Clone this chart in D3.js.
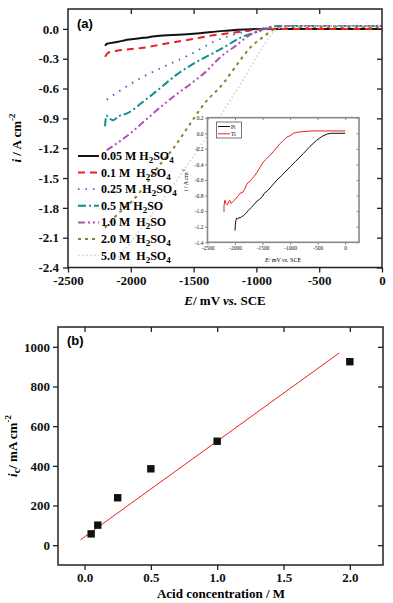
<!DOCTYPE html>
<html>
<head>
<meta charset="utf-8">
<script src="https://cdn.jsdelivr.net/npm/d3@7"></script>
<style>
  body { margin: 0; background: #fff; }
  text { font-family: "Liberation Serif", "DejaVu Serif", serif; }
</style>
</head>
<body>
<div id="chart"></div>
<script>
// panel (a): polarisation curves, [E (mV vs SCE), i (A cm-2)]
const curve005 = [[-2205,-0.17],[-2190,-0.15],[-2100,-0.13],[-2030,-0.11],[-1900,-0.09],[-1770,-0.07],[-1500,-0.05],[-1260,-0.02],[-1000,0.0],[-800,0.0],[0,0.0]];
const curve01 = [[-2205,-0.28],[-2180,-0.24],[-2110,-0.22],[-1900,-0.19],[-1770,-0.16],[-1500,-0.10],[-1370,-0.07],[-1130,-0.03],[-920,0.0],[-700,0.0],[0,0.0]];
const curve025 = [[-2192,-0.71],[-2060,-0.60],[-1900,-0.48],[-1770,-0.40],[-1500,-0.24],[-1340,-0.13],[-1130,-0.04],[-920,0.01],[-800,0.03],[0,0.03]];
const curve05 = [[-2205,-0.98],[-2195,-0.87],[-2170,-0.90],[-2140,-0.92],[-2100,-0.88],[-2030,-0.85],[-1900,-0.73],[-1770,-0.60],[-1635,-0.46],[-1500,-0.35],[-1265,-0.19],[-1130,-0.09],[-1000,-0.03],[-890,0.02],[-800,0.03],[0,0.03]];
const curve10 = [[-2192,-1.22],[-2033,-1.08],[-1850,-0.88],[-1690,-0.71],[-1500,-0.53],[-1420,-0.45],[-1265,-0.26],[-1185,-0.19],[-1050,-0.06],[-920,0.0],[-820,0.03],[0,0.03]];
const curve20 = [[-2205,-2.0],[-2110,-1.87],[-1980,-1.72],[-1890,-1.58],[-1790,-1.40],[-1660,-1.20],[-1530,-0.96],[-1420,-0.76],[-1265,-0.55],[-1155,-0.36],[-1050,-0.19],[-945,-0.08],[-850,0.0],[-750,0.02],[0,0.02]];
const curve50 = [[-2100,-2.3],[-1900,-1.98],[-1700,-1.64],[-1500,-1.28],[-1300,-0.9],[-1100,-0.5],[-950,-0.18],[-860,-0.03],[-780,0.02],[0,0.03]];

const seriesNames = ["0.05 M H2SO4", "0.1 M  H2SO4", "0.25 M  H2SO4", "0.5 M H2SO", "1.0 M  H2SO", "2.0 M  H2SO4", "5.0 M  H2SO4"];
const seriesData = [curve005, curve01, curve025, curve05, curve10, curve20, curve50];
const seriesColors = ["#111111", "#e8211d", "#3a5fc0", "#128c8c", "#b84cb8", "#85852a", "#cfcfcf"];
const seriesDash = ["none", "7,5", "1.5,6", "8,3,2,3", "7,3,2,3,2,3", "3,4", "1.5,2.5"];
const seriesWidth = [2, 2, 1.8, 2, 2, 2, 1.5];

// inset: Pt and Ti electrodes
const insetPt = [[-2000,-1.25],[-1995,-1.18],[-1985,-1.12],[-1970,-1.09],[-1950,-1.10],[-1930,-1.08],[-1910,-1.09],[-1880,-1.07],[-1850,-1.06],[-1820,-1.04],[-1790,-1.02],[-1760,-0.99],[-1700,-0.95],[-1650,-0.91],[-1600,-0.87],[-1560,-0.85],[-1500,-0.81],[-1480,-0.78],[-1400,-0.73],[-1300,-0.65],[-1240,-0.60],[-1150,-0.54],[-1000,-0.43],[-900,-0.36],[-760,-0.26],[-640,-0.17],[-520,-0.09],[-420,-0.04],[-330,-0.01],[-250,0.0],[0,0.0]];
const insetTi = [[-2200,-1.01],[-2200,-0.93],[-2185,-0.86],[-2165,-0.90],[-2140,-0.92],[-2115,-0.88],[-2095,-0.86],[-2075,-0.90],[-2040,-0.88],[-2000,-0.85],[-1950,-0.81],[-1910,-0.77],[-1860,-0.76],[-1820,-0.71],[-1790,-0.66],[-1760,-0.63],[-1730,-0.62],[-1700,-0.59],[-1650,-0.55],[-1600,-0.50],[-1540,-0.43],[-1490,-0.37],[-1430,-0.33],[-1360,-0.28],[-1300,-0.23],[-1240,-0.18],[-1180,-0.13],[-1120,-0.09],[-1060,-0.05],[-1000,-0.03],[-940,0.0],[-880,0.01],[-800,0.02],[-600,0.03],[0,0.03]];

// panel (b): cathodic current vs acid concentration
const acidConc = [0.05, 0.1, 0.25, 0.5, 1.0, 2.0];
const currentDensity = [57, 101, 239, 385, 524, 925];
const fitConc = [-0.03, 1.92];
const fitCurrent = [27, 969];

const aXTicks = [-2500, -2000, -1500, -1000, -500, 0];
const aYTicks = [0.0, -0.3, -0.6, -0.9, -1.2, -1.5, -1.8, -2.1, -2.4];
const insetXTicks = [-2500, -2000, -1500, -1000, -500, 0];
const insetYTicks = [0.2, 0.0, -0.2, -0.4, -0.6, -0.8, -1.0, -1.2, -1.4];
const bXTicks = [0.0, 0.5, 1.0, 1.5, 2.0];
const bYTicks = [0, 200, 400, 600, 800, 1000];

const W = 393, H = 603;
const svg = d3.select("#chart").append("svg")
  .attr("width", W).attr("height", H);
svg.append("rect").attr("width", W).attr("height", H).attr("fill", "#fff");

// little helper: draw axes as a box with ticks (outer on left/bottom, inner on top/right)
function boxAxes(g, x, y, xt, yt, opt) {
  const [x0, x1] = x.range();
  const [y0, y1] = y.range();
  const tl = opt.tick, col = opt.color;
  const bottom = g.append("g").attr("transform", `translate(0,${y0})`)
    .call(d3.axisBottom(x).tickValues(xt).tickSize(opt.inner ? -tl : tl).tickPadding(opt.pad).tickFormat(opt.xfmt));
  const left = g.append("g").attr("transform", `translate(${x0},0)`)
    .call(d3.axisLeft(y).tickValues(yt).tickSize(opt.inner ? -tl : tl).tickPadding(opt.ypad).tickFormat(opt.yfmt));
  const top = g.append("g").attr("transform", `translate(0,${y1})`)
    .call(d3.axisTop(x).tickValues(opt.topTicks || xt).tickSize(-tl).tickFormat(""));
  const right = g.append("g").attr("transform", `translate(${x1},0)`)
    .call(d3.axisRight(y).tickValues(yt).tickSize(-tl).tickFormat(""));
  [bottom, left, top, right].forEach((a) => {
    a.select(".domain").remove();
    a.selectAll("line").attr("stroke", col).attr("stroke-width", opt.width);
    a.selectAll("text").attr("fill", "#111")
      .style("font-family", "'Liberation Serif', serif")
      .style("font-size", opt.font + "px")
      .style("font-weight", opt.bold ? "bold" : "normal");
  });
  g.append("rect")
    .attr("x", x0).attr("y", y1).attr("width", x1 - x0).attr("height", y0 - y1)
    .attr("fill", "none").attr("stroke", col).attr("stroke-width", opt.frame);
}

// ---------- panel (a) ----------
const xa = d3.scaleLinear().domain([-2500, 0]).range([68, 382]);
const ya = d3.scaleLinear().domain([-2.4, 0.2]).range([267.5, 9]);
const ga = svg.append("g");

const lineA = d3.line().x((d) => xa(d[0])).y((d) => ya(d[1])).curve(d3.curveMonotoneX);
seriesData.forEach((s, i) => {
  ga.append("path").datum(s)
    .attr("d", lineA)
    .attr("fill", "none")
    .attr("stroke", seriesColors[i])
    .attr("stroke-width", seriesWidth[i])
    .attr("stroke-dasharray", seriesDash[i]);
});

boxAxes(ga, xa, ya, aXTicks, aYTicks, {
  tick: 5, pad: 3, ypad: 4, color: "#222", width: 1.3, frame: 1.5, font: 13, bold: true,
  xfmt: d3.format("d"), yfmt: d3.format(".1f"), topTicks: [-2000, -1500, -1000, -500]
});
// use hyphen-like minus as in the original
ga.selectAll(".tick text").text(function () { return d3.select(this).text().replace("−", "-"); });

ga.append("text").attr("x", 77).attr("y", 28)
  .style("font-family", "'Liberation Sans', Arial, sans-serif")
  .style("font-weight", "bold").style("font-size", "13px").text("(a)");

// legend
const legA = ga.append("g");
seriesNames.forEach((name, i) => {
  const yy = 156 + i * 16.6;
  legA.append("line").attr("x1", 78).attr("x2", 99).attr("y1", yy).attr("y2", yy)
    .attr("stroke", seriesColors[i]).attr("stroke-width", seriesWidth[i])
    .attr("stroke-dasharray", seriesDash[i]);
  const t = legA.append("text").attr("x", 101).attr("y", yy + 4)
    .style("font-weight", "bold").style("font-size", "12px").style("white-space", "pre");
  const m = name.match(/^(.*H)2(SO)(4?)$/);
  t.append("tspan").text(m[1]);
  t.append("tspan").attr("dy", 3).style("font-size", "9px").text("2");
  t.append("tspan").attr("dy", -3).text(m[2]);
  if (m[3]) t.append("tspan").attr("dy", 3).style("font-size", "9px").text("4");
});

// axis titles (a)
const xta = ga.append("text").attr("x", 225).attr("y", 305).attr("text-anchor", "middle")
  .style("font-weight", "bold").style("font-size", "13px");
xta.append("tspan").style("font-style", "italic").text("E");
xta.append("tspan").text("/ mV ");
xta.append("tspan").style("font-style", "italic").text("vs.");
xta.append("tspan").text(" SCE");

const yta = ga.append("text").attr("transform", "translate(21,138) rotate(-90)")
  .attr("text-anchor", "middle").style("font-weight", "bold").style("font-size", "13px");
yta.append("tspan").style("font-style", "italic").text("i");
yta.append("tspan").text(" / A cm");
yta.append("tspan").attr("dy", -6).style("font-size", "9px").text("-2");

// ---------- inset ----------
const xi = d3.scaleLinear().domain([-2500, 250]).range([207.5, 359]);
const yi = d3.scaleLinear().domain([-1.4, 0.2]).range([242.3, 117.7]);
const gi = svg.append("g");
gi.append("rect").attr("x", 207.5).attr("y", 117.7).attr("width", 151.5).attr("height", 124.6).attr("fill", "#fff");

const lineI = d3.line().x((d) => xi(d[0])).y((d) => yi(d[1]));
gi.append("path").datum(insetPt).attr("d", lineI).attr("fill", "none").attr("stroke", "#111").attr("stroke-width", 1);
gi.append("path").datum(insetTi).attr("d", lineI).attr("fill", "none").attr("stroke", "#e8211d").attr("stroke-width", 1);

boxAxes(gi, xi, yi, insetXTicks, insetYTicks, {
  tick: 2.5, pad: 1.5, ypad: 1.5, color: "#888", width: 1, frame: 1.6, font: 5.5, bold: false,
  xfmt: d3.format("d"), yfmt: d3.format(".1f")
});
gi.selectAll(".tick text").text(function () { return d3.select(this).text().replace("−", "-"); });

const legI = gi.append("g");
legI.append("rect").attr("x", 216.5).attr("y", 122).attr("width", 25).attr("height", 16)
  .attr("fill", "#fff").attr("stroke", "#555").attr("stroke-width", 0.8);
[["Pt", "#111"], ["Ti", "#e8211d"]].forEach((e, i) => {
  const yy = 126.5 + i * 7.3;
  legI.append("line").attr("x1", 218).attr("x2", 230).attr("y1", yy).attr("y2", yy)
    .attr("stroke", e[1]).attr("stroke-width", 1);
  legI.append("text").attr("x", 231).attr("y", yy + 2).style("font-size", "5.5px").text(e[0]);
});

const xti = gi.append("text").attr("x", 283).attr("y", 262).attr("text-anchor", "middle").style("font-size", "6px");
xti.append("tspan").style("font-style", "italic").text("E");
xti.append("tspan").text("/ mV ");
xti.append("tspan").style("font-style", "italic").text("vs.");
xti.append("tspan").text(" SCE");

const yti = gi.append("text").attr("transform", "translate(188,180) rotate(-90)")
  .attr("text-anchor", "middle").style("font-size", "6px");
yti.append("tspan").style("font-style", "italic").text("i");
yti.append("tspan").text(" / A cm");
yti.append("tspan").attr("dy", -3).style("font-size", "4.5px").text("-2");

// ---------- panel (b) ----------
const xb = d3.scaleLinear().domain([-0.2, 2.25]).range([58, 383]);
const yb = d3.scaleLinear().domain([-100, 1100]).range([565, 327]);
const gb = svg.append("g");

boxAxes(gb, xb, yb, bXTicks, bYTicks, {
  tick: 5, pad: 3, ypad: 3, color: "#222", width: 1.3, frame: 1.5, font: 13, bold: true,
  xfmt: d3.format(".1f"), yfmt: d3.format("d"), topTicks: [0.0, 0.5, 1.0, 1.5, 2.0]
});

gb.append("line")
  .attr("x1", xb(fitConc[0])).attr("y1", yb(fitCurrent[0]))
  .attr("x2", xb(fitConc[1])).attr("y2", yb(fitCurrent[1]))
  .attr("stroke", "#e8211d").attr("stroke-width", 1);

gb.selectAll("rect.pt").data(acidConc).enter().append("rect")
  .attr("class", "pt")
  .attr("x", (d) => xb(d) - 3.7)
  .attr("y", (d, i) => yb(currentDensity[i]) - 3.7)
  .attr("width", 7.4).attr("height", 7.4)
  .attr("fill", "#111");

gb.append("text").attr("x", 67).attr("y", 345)
  .style("font-family", "'Liberation Sans', Arial, sans-serif")
  .style("font-weight", "bold").style("font-size", "13px").text("(b)");

gb.append("text").attr("x", 221).attr("y", 598).attr("text-anchor", "middle")
  .style("font-weight", "bold").style("font-size", "13px").text("Acid concentration / M");

const ytb = gb.append("text").attr("transform", "translate(17,446) rotate(-90)")
  .attr("text-anchor", "middle").style("font-weight", "bold").style("font-size", "13px");
ytb.append("tspan").style("font-style", "italic").text("i");
ytb.append("tspan").attr("dy", 3).style("font-size", "10px").text("c");
ytb.append("tspan").attr("dy", -3).text("/ mA cm");
ytb.append("tspan").attr("dy", -6).style("font-size", "9px").text("-2");
</script>
</body>
</html>
